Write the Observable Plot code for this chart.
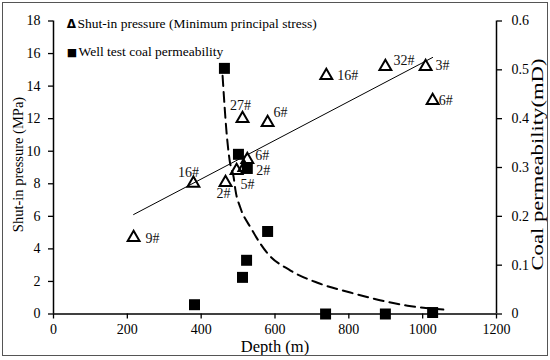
<!DOCTYPE html>
<html><head><meta charset="utf-8">
<script src="https://cdn.jsdelivr.net/npm/d3@7"></script>
<script src="https://cdn.jsdelivr.net/npm/@observablehq/plot@0.6"></script>
<style>
body{margin:0;background:#fff;}
#wrap{position:relative;width:550px;height:360px;}
#border{position:absolute;left:2px;top:2px;width:544px;height:352px;border:1px solid #555;pointer-events:none;}
svg{display:block;}
</style></head><body><div id="wrap"><div id="border"></div></div>
<script>
// Shut-in pressure (minimum principal stress) by well
const stressDepth = [217, 379, 466, 496, 517, 525, 512, 580, 739, 899, 1008, 1027];
const stressMPa   = [4.70, 8.02, 8.08, 8.81, 9.00, 9.49, 12.01, 11.76, 14.65, 15.20, 15.20, 13.11];
const wellLabels  = ["9#", "16#", "2#", "5#", "2#", "6#", "27#", "6#", "16#", "32#", "3#", "6#"];

// Well test coal permeability
const permDepth = [382, 463, 501, 525, 512, 523, 580, 737, 899, 1027];
const permMD    = [0.019, 0.503, 0.327, 0.298, 0.075, 0.110, 0.169, 0.0, 0.0, 0.003];

// Linear trend of shut-in pressure (end points)
const trendDepth = [217, 1027];
const trendMPa   = [6.11, 15.76];

// Dashed permeability trend
const curveDepth = [458, 469, 477, 488, 493, 506, 534, 580, 642, 715, 804, 959, 1056];
const curveMD    = [0.488, 0.370, 0.315, 0.280, 0.253, 0.218, 0.177, 0.124, 0.089, 0.064, 0.044, 0.017, 0.009];

// Axis ticks
const xTicks = [0, 200, 400, 600, 800, 1000, 1200];
const xTickLabels = ["0", "200", "400", "600", "800", "1000", "1200"];
const leftTicks = [0, 2, 4, 6, 8, 10, 12, 14, 16, 18];
const rightTicks = [0, 0.1, 0.2, 0.3, 0.4, 0.5, 0.6];
const rightTickLabels = ["0", "0.1", "0.2", "0.3", "0.4", "0.5", "0.6"];

// label placement (layout only): [dx, dy, anchor]
const labelPlacement = [
  [12, 1, "start"], [-5, -11, "middle"], [-2, 11, "middle"], [11, 14, "middle"],
  [12, 3, "start"], [8, -4, "start"], [-2, -13, "middle"], [6, -10, "start"],
  [11, 0, "start"], [8, -6, "start"], [10, -1, "start"], [6, 0, "start"]
];

const SCALE = 18 / 0.6; // secondary axis: 0.6 mD <-> 18 MPa
const SERIF = "'Liberation Serif', 'Times New Roman', serif";

const stress = stressDepth.map((d, i) => ({depth: d, p: stressMPa[i], label: wellLabels[i], i}));
const perm = permDepth.map((d, i) => ({depth: d, k: permMD[i]}));
const trend = trendDepth.map((d, i) => ({depth: d, p: trendMPa[i]}));
const curve = curveDepth.map((d, i) => ({depth: d, k: curveMD[i]}));

const labelMarks = stress.map((s, i) => Plot.text([s], {
  x: "depth", y: "p", text: "label",
  dx: labelPlacement[i][0], dy: labelPlacement[i][1], textAnchor: labelPlacement[i][2],
  lineAnchor: "middle", fontSize: 14, fill: "#111", fontFamily: SERIF
}));

const chart = Plot.plot({
  width: 550, height: 360,
  marginLeft: 53, marginRight: 54, marginTop: 20.5, marginBottom: 46.5,
  style: {fontFamily: SERIF, fontSize: "14px", color: "#000", background: "transparent", overflow: "visible"},
  x: {domain: [0, 1200]},
  y: {domain: [0, 18]},
  marks: [
    Plot.axisX({ticks: xTicks, tickSize: 5, tickPadding: 5, label: null, strokeWidth: 1.3, fontSize: 14,
      tickFormat: v => xTickLabels[xTicks.indexOf(v)]}),
    Plot.axisY({ticks: leftTicks, anchor: "left", tickSize: 5, tickPadding: 8, label: null, strokeWidth: 1.3, fontSize: 14}),
    Plot.axisY({ticks: rightTicks.map(k => k * SCALE), anchor: "right", tickSize: 5, tickPadding: 10, label: null, strokeWidth: 1.3, fontSize: 14,
      tickFormat: v => rightTickLabels[rightTicks.findIndex(k => Math.abs(k * SCALE - v) < 1e-6)]}),
    Plot.ruleX([0, 1200], {stroke: "#000", strokeWidth: 1.5}),
    Plot.ruleY([0], {stroke: "#000", strokeWidth: 1.5}),
    Plot.line(trend, {x: "depth", y: "p", stroke: "#000", strokeWidth: 1}),
    Plot.line(curve, {x: "depth", y: d => d.k * SCALE, stroke: "#000", strokeWidth: 2, strokeDasharray: "10,6", curve: "monotone-x"}),
    Plot.dot(perm, {x: "depth", y: d => d.k * SCALE, symbol: "square", r: 6.2, fill: "#000", stroke: null}),
    Plot.dot(stress, {x: "depth", y: "p", symbol: "triangle", r: 4.4, fill: "none", stroke: "#000", strokeWidth: 2}),
    ...labelMarks,
    // legend
    Plot.text(["Δ"], {frameAnchor: "top-left", dx: 18, dy: 3, textAnchor: "middle", lineAnchor: "middle", fontWeight: "bold", fontSize: 12, fontFamily: "'DejaVu Sans', sans-serif"}),
    Plot.text(["Shut-in pressure (Minimum principal stress)"], {frameAnchor: "top-left", dx: 24, dy: 3, textAnchor: "start", lineAnchor: "middle", fontSize: 13.5, fontFamily: SERIF}),
    Plot.text(["■"], {frameAnchor: "top-left", dx: 18.5, dy: 31, textAnchor: "middle", lineAnchor: "middle", fontSize: 11, fontFamily: "'DejaVu Sans', sans-serif"}),
    Plot.text(["Well test coal permeability"], {frameAnchor: "top-left", dx: 25, dy: 31, textAnchor: "start", lineAnchor: "middle", fontSize: 13.5, fontFamily: SERIF}),
    // axis titles
    Plot.text(["Depth (m)"], {frameAnchor: "bottom", dy: 33, textAnchor: "middle", lineAnchor: "middle", fontSize: 16.5, fontFamily: SERIF}),
    Plot.text(["Shut-in pressure (MPa)"], {frameAnchor: "left", dx: -35.5, dy: -3, textAnchor: "middle", lineAnchor: "middle", rotate: -90, fontSize: 14.5, fontFamily: SERIF}),
    Plot.text(["Coal permeability(mD)"], {frameAnchor: "right", dx: 41, dy: -3, textAnchor: "middle", lineAnchor: "middle", rotate: -90, fontSize: 16, fontFamily: SERIF, className: "rtitle"})
  ]
});
document.getElementById("wrap").prepend(chart);
// match reference title length
d3.select(chart).selectAll(".rtitle text").attr("textLength", 212).attr("lengthAdjust", "spacingAndGlyphs");
</script>
</body></html>
